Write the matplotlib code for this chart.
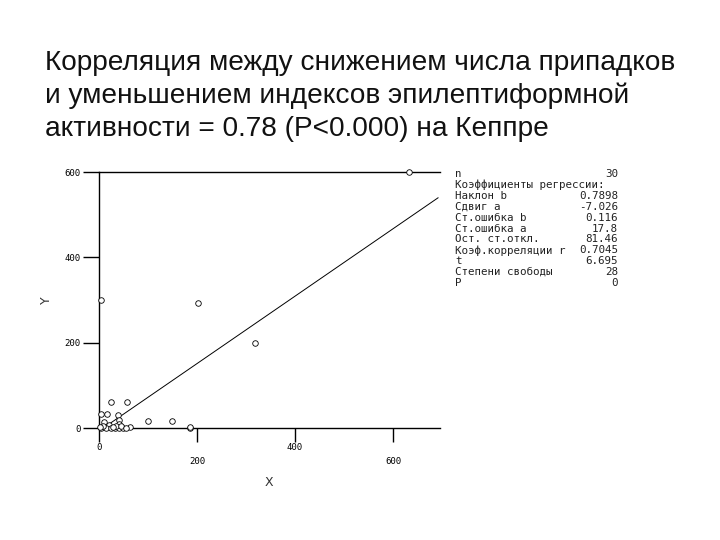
import matplotlib
matplotlib.use("Agg")
import matplotlib.pyplot as plt
import numpy as np

# ---- data ----
x_vals = [633, 4, 203, 318, 24, 58, 5, 17, 39, 101, 148, 186, 186, 10, 40,
          20, 41, 5, 14, 24, 32, 41, 50, 63, 35, 8, 45, 2, 28, 55]
y_vals = [600, 300, 292, 200, 60, 60, 32, 32, 30, 16, 16, 0, 2, 15, 18,
          8, 10, 0, 0, 0, 0, 0, 0, 2, 5, 5, 5, 2, 3, 0]
slope = 0.7898
intercept = -7.026
x_ticks = [0, 200, 400, 600]
x_tick_labels = ["0", "200", "400", "600"]
y_ticks = [0, 200, 400, 600]
y_tick_labels = ["0", "200", "400", "600"]

stat_labels = ["n", "Коэффициенты регрессии:", "Наклон b", "Сдвиг a",
               "Ст.ошибка b", "Ст.ошибка a", "Ост. ст.откл.",
               "Коэф.корреляции r", "t", "Степени свободы", "P"]
stat_values = ["30", "", "0.7898", "-7.026", "0.116", "17.8", "81.46",
               "0.7045", "6.695", "28", "0"]

title_lines = ["Корреляция между снижением числа припадков",
               "и уменьшением индексов эпилептиформной",
               "активности = 0.78 (P<0.000) на Кеппре"]

# ---- figure ----
fig = plt.figure(figsize=(7.2, 5.4), dpi=100)
fig.patch.set_facecolor("white")

title_font = ["Liberation Sans", "DejaVu Sans"]
for i, line in enumerate(title_lines):
    fig.text(45 / 720, 1 - (70 + 33 * i) / 540, line, fontsize=20.2,
             family=title_font, ha="left", va="baseline", color="#111111")

ax = fig.add_axes([99 / 720, 1 - 428 / 540, (440 - 99) / 720, (428 - 172) / 540])
ax.set_xlim(0, 696)
ax.set_ylim(0, 600)

ax.spines["right"].set_visible(False)
for s in ["left", "bottom", "top"]:
    ax.spines[s].set_linewidth(1.0)
    ax.spines[s].set_color("black")

# regression line
x0 = -intercept / slope
x1 = 692
lx = np.array([x0, x1])
ax.plot(lx, slope * lx + intercept, color="black", lw=0.7, clip_on=False)

ax.plot(x_vals, y_vals, linestyle="none", marker="o", markersize=4,
        markerfacecolor="white", markeredgecolor="black", markeredgewidth=0.6,
        clip_on=False, zorder=3)

tick_font = "DejaVu Sans Mono"
ax.set_yticks(y_ticks)
ax.set_yticklabels(y_tick_labels, fontsize=6.5, family=tick_font)
ax.tick_params(axis="y", length=11.5, width=1.0, direction="out", pad=2)

ax.set_xticks(x_ticks)
ax.set_xticklabels([])
ax.tick_params(axis="x", length=10, width=1.0, direction="out")
for i, (xt, lab) in enumerate(zip(x_ticks, x_tick_labels)):
    off = -14 if i % 2 == 0 else -24
    ax.annotate(lab, xy=(xt, 0), xycoords=("data", "axes fraction"),
                xytext=(0, off), textcoords="offset points",
                ha="center", va="center", fontsize=6.5, family=tick_font)

fig.text(269 / 720, 1 - 483 / 540, "X", fontsize=9, ha="center", va="center",
         family="DejaVu Sans", color="#333333")
fig.text(46 / 720, 1 - 300 / 540, "Y", fontsize=9, ha="center", va="center",
         rotation=90, family="DejaVu Sans", color="#333333")

# stats block
for i, (lab, val) in enumerate(zip(stat_labels, stat_values)):
    yy = 1 - (174 + 10.9 * i) / 540
    fig.text(455 / 720, yy, lab, fontsize=7.8, family=tick_font,
             ha="left", va="center", color="#222222")
    if val:
        fig.text(618 / 720, yy, val, fontsize=7.8, family=tick_font,
                 ha="right", va="center", color="#222222")

fig.savefig("out.png", dpi=100)
